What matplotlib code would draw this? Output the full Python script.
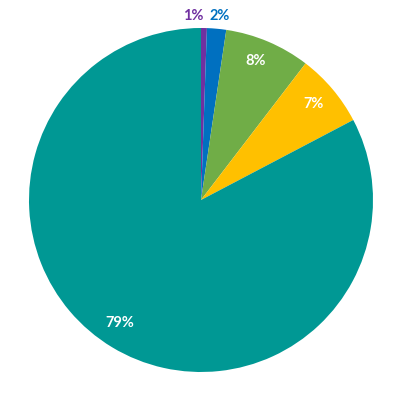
import matplotlib.pyplot as plt

# slice shares, clockwise from 12 o'clock
shares = [0.55, 1.8, 8.05, 6.9, 82.7]
labels = ['1%', '2%', '8%', '7%', '79%']
colors = ['#7030A0', '#0070C0', '#70AD47', '#FFC000', '#009894']
label_colors = ['#7030A0', '#0070C0', 'white', 'white', 'white']
label_pos = [(193, 16), (220, 16), (256, 61), (314, 104), (120, 323)]  # pixel positions

fig = plt.figure(figsize=(4, 4), dpi=100)
cx, cy, r = 201, 200, 172
ax = fig.add_axes([(cx - r) / 400, (400 - cy - r) / 400, 2 * r / 400, 2 * r / 400])
wedges, _ = ax.pie(shares, colors=colors, startangle=90, counterclock=False,
                   radius=1, wedgeprops=dict(linewidth=0))
ax.set_xlim(-1, 1)
ax.set_ylim(-1, 1)
ax.set_aspect('equal')
ax.axis('off')

for txt, col, (px, py) in zip(labels, label_colors, label_pos):
    fig.text(px / 400, 1 - py / 400, txt, color=col, fontsize=10.5,
             fontweight='bold', family=['Lato', 'DejaVu Sans'],
             ha='center', va='center')

fig.savefig('out.png', dpi=100)
